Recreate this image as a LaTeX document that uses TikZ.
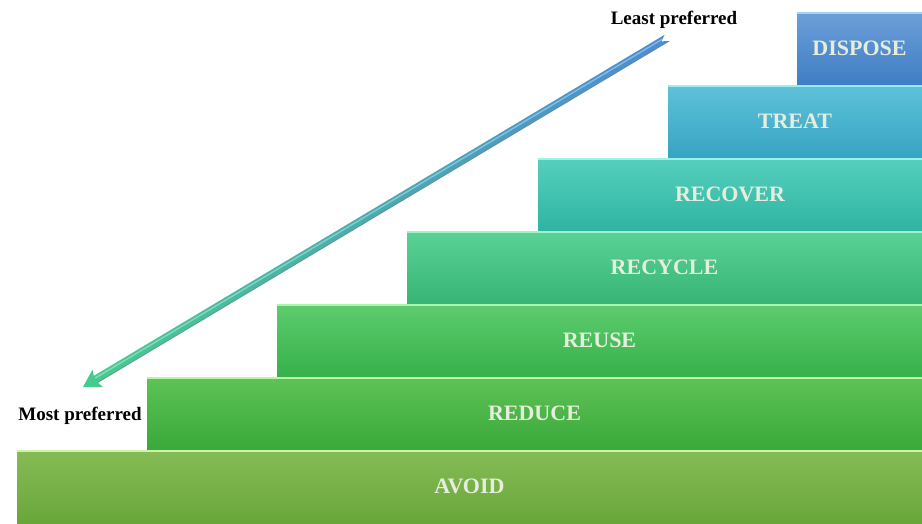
\documentclass[tikz,border=0pt]{standalone}
\usepackage{fontspec}
\setmainfont{Liberation Serif}
\definecolor{labelcol}{HTML}{E6EDDD}
\definecolor{dispT}{HTML}{6CA0D8}\definecolor{dispB}{HTML}{3F7DC4}\definecolor{dispH}{HTML}{A8D0F4}
\definecolor{treaT}{HTML}{5EC2D8}\definecolor{treaB}{HTML}{37A4C4}\definecolor{treaH}{HTML}{9CEEF4}
\definecolor{recoT}{HTML}{55D0BD}\definecolor{recoB}{HTML}{2FB4A2}\definecolor{recoH}{HTML}{9CF4E4}
\definecolor{recyT}{HTML}{5AD296}\definecolor{recyB}{HTML}{37B476}\definecolor{recyH}{HTML}{9EF4C6}
\definecolor{reusT}{HTML}{5DCC6E}\definecolor{reusB}{HTML}{36B14A}\definecolor{reusH}{HTML}{AAF4B0}
\definecolor{reduT}{HTML}{5EC357}\definecolor{reduB}{HTML}{3AA83A}\definecolor{reduH}{HTML}{BAF4A6}
\definecolor{avoiT}{HTML}{86BC56}\definecolor{avoiB}{HTML}{69A63A}\definecolor{avoiH}{HTML}{D0F4A6}
\definecolor{arrG}{HTML}{46CC8E}\definecolor{arrB}{HTML}{4A8CD6}
\tikzset{
  stepbox/.style={draw=none, inner sep=0pt, outer sep=0pt, anchor=north west,
    minimum height=73pt, font=\bfseries\fontsize{22}{24}\selectfont, text=labelcol},
  hiline/.style={line width=2.2pt},
  sidelabel/.style={font=\bfseries\fontsize{19}{21}\selectfont, text=black, inner sep=0pt},
}
\begin{document}
\begin{tikzpicture}[x=1pt,y=-1pt]
\useasboundingbox[fill=white] (0,0) rectangle (922,523);
% steps
\node[stepbox, minimum width=905pt, top color=avoiT, bottom color=avoiB] (avoid) at (17,450) {AVOID};
\node[stepbox, minimum width=775pt, top color=reduT, bottom color=reduB] (reduce) at (147,377) {REDUCE};
\node[stepbox, minimum width=645pt, top color=reusT, bottom color=reusB] (reuse) at (277,304) {REUSE};
\node[stepbox, minimum width=515pt, top color=recyT, bottom color=recyB] (recycle) at (407,231) {RECYCLE};
\node[stepbox, minimum width=384pt, top color=recoT, bottom color=recoB] (recover) at (538,158) {RECOVER};
\node[stepbox, minimum width=254pt, top color=treaT, bottom color=treaB] (treat) at (668,85) {TREAT};
\node[stepbox, minimum width=125pt, top color=dispT, bottom color=dispB] (dispose) at (797,12) {DISPOSE};
% top highlights
\draw[hiline, avoiH] ([yshift=-1.1pt]avoid.north west) -- ([yshift=-1.1pt]avoid.north east);
\draw[hiline, reduH] ([yshift=-1.1pt]reduce.north west) -- ([yshift=-1.1pt]reduce.north east);
\draw[hiline, reusH] ([yshift=-1.1pt]reuse.north west) -- ([yshift=-1.1pt]reuse.north east);
\draw[hiline, recyH] ([yshift=-1.1pt]recycle.north west) -- ([yshift=-1.1pt]recycle.north east);
\draw[hiline, recoH] ([yshift=-1.1pt]recover.north west) -- ([yshift=-1.1pt]recover.north east);
\draw[hiline, treaH] ([yshift=-1.1pt]treat.north west) -- ([yshift=-1.1pt]treat.north east);
\draw[hiline, dispH] ([yshift=-1.1pt]dispose.north west) -- ([yshift=-1.1pt]dispose.north east);
% side labels
\node[sidelabel] (least) at (674,20) {Least preferred};
\node[sidelabel] (most) at (80,416) {Most preferred};
% arrow
\begin{scope}[shift={(83,387)}, x=1pt, y=1pt, rotate=30.86]
  \path[left color=arrG, right color=arrB]
    (0,0) -- (17,10) -- (15,4) -- (680,4) -- (674,0) -- (681,-4)
    -- (15,-4) -- (17,-10) -- cycle;
  \draw[black!50, opacity=0.55, line width=0.9pt] (15,-3.6) -- (680,-3.6);
  \draw[white, opacity=0.35, line width=1.4pt] (15,1.4) -- (676,1.4);
\end{scope}
\end{tikzpicture}
\end{document}
